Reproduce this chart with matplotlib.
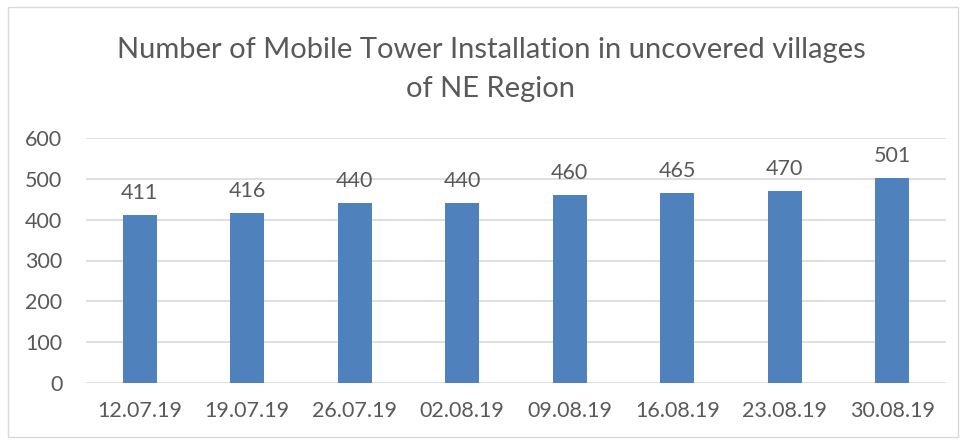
import numpy as np
import matplotlib.pyplot as plt
from matplotlib.patches import Rectangle

dates = ['12.07.19', '19.07.19', '26.07.19', '02.08.19',
         '09.08.19', '16.08.19', '23.08.19', '30.08.19']
towers = [411, 416, 440, 440, 460, 465, 470, 501]
yticks = [0, 100, 200, 300, 400, 500, 600]

plt.rcParams['font.family'] = ['Lato', 'DejaVu Sans']
txt = '#595959'

W, H = 961, 441
fig = plt.figure(figsize=(W/100, H/100), dpi=100)
fig.patches.append(Rectangle((8/W, 4/H), 950/W, 430/H, transform=fig.transFigure,
                             fill=False, edgecolor='#d9d9d9', linewidth=1))

ax = fig.add_axes([86/W, (H-383)/H, 860/W, 245/H])
x = np.arange(len(dates))
ax.bar(x, towers, width=0.32, color='#4f81bd', zorder=3)
for xi, v in zip(x, towers):
    ax.annotate(str(v), (xi, v), xytext=(0, 9), textcoords='offset points',
                ha='center', va='bottom', fontsize=15.5, color=txt)

ax.set_xlim(-0.5, len(dates) - 0.5)
ax.set_ylim(0, 600)
ax.set_yticks(yticks)
ax.set_xticks(x)
ax.set_xticklabels(dates)
ax.grid(axis='y', color='#d9d9d9', linewidth=1.2, zorder=0)
for s in ax.spines.values():
    s.set_visible(False)
ax.tick_params(length=0, labelsize=15.5, labelcolor=txt)
ax.tick_params(axis='y', pad=17)
ax.tick_params(axis='x', pad=13)

fig.text(491/W, 1 - 37/H, 'Number of Mobile Tower Installation in uncovered villages\nof NE Region',
         ha='center', va='top', fontsize=21, color=txt, linespacing=1.6)

fig.savefig('out.png', dpi=100)
